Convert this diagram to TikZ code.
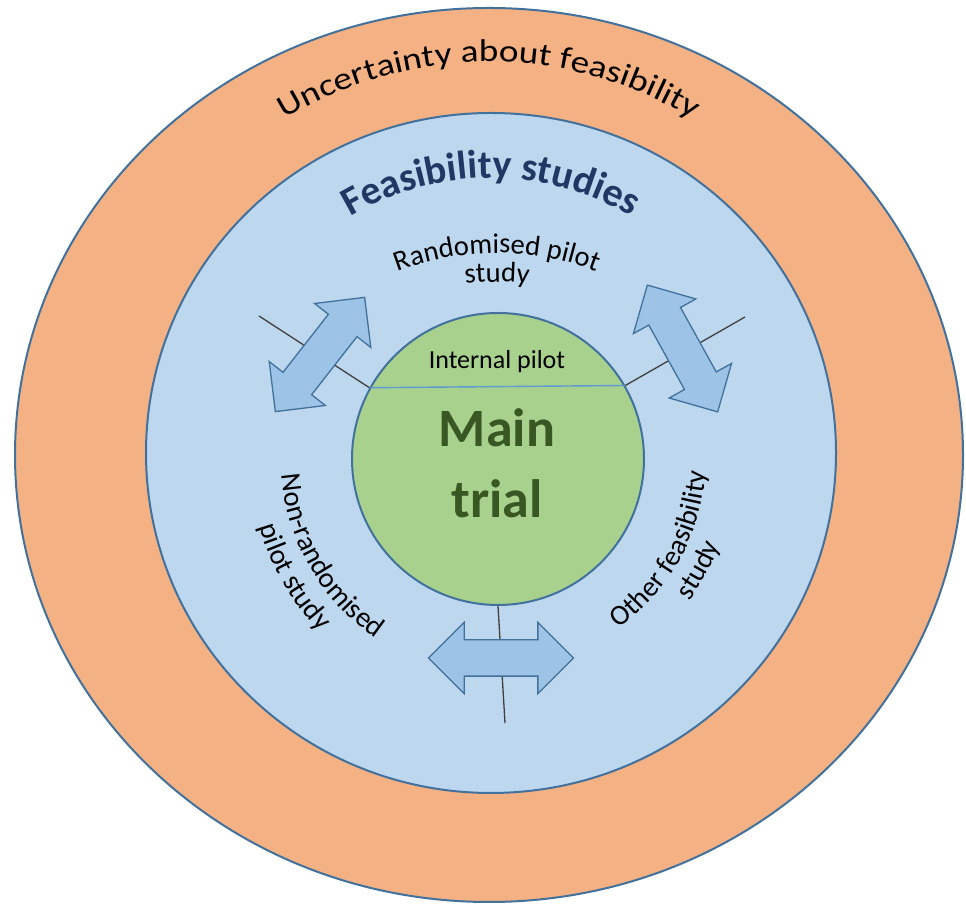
\documentclass[tikz,border=0pt]{standalone}
\usepackage{fontspec}
\setmainfont{Carlito}
\newfontfamily\arcfont[FakeStretch=1.18]{Carlito}
\usetikzlibrary{shapes.arrows,decorations.text}

\definecolor{ringorange}{RGB}{244,177,131}
\definecolor{ringblue}{RGB}{189,215,238}
\definecolor{maingreen}{RGB}{169,209,142}
\definecolor{rimblue}{RGB}{65,113,156}
\definecolor{splitblue}{RGB}{91,155,213}
\definecolor{arrowblue}{RGB}{157,195,230}
\definecolor{titleblue}{RGB}{31,56,100}
\definecolor{trialgreen}{RGB}{56,87,35}

\newcommand\lblsize{\fontsize{28.5}{34}\selectfont}
\newcommand\bandsize{\arcfont\fontsize{31.5}{37}\selectfont}
\newcommand\featsize{\color{titleblue}\bfseries\fontsize{40}{48}\selectfont}

\tikzset{
  ring/.style={draw=rimblue, line width=2pt},
  spoke/.style={draw=black!75, line width=1.3pt},
  dblarrow/.style={double arrow, draw=rimblue, fill=arrowblue, line width=1.3pt,
    minimum height=145pt, minimum width=70pt, inner xsep=0pt, inner ysep=17.5pt,
    double arrow head extend=17.5pt},
  arctext/.style={decorate, decoration={text along path, text align=center, text={#1}}}
}

\begin{document}
\begin{tikzpicture}[x=1pt,y=1pt]
  \useasboundingbox (0,0) rectangle (966,909);

  % rings
  \draw[ring, fill=ringorange] (489,454) ellipse [x radius=474, y radius=447];
  \draw[ring, fill=ringblue] (491,456) ellipse [x radius=345, y radius=340];
  \node[ring, circle, fill=maingreen, minimum size=292pt, inner sep=0pt] (main) at (498,450) {};
  \draw[splitblue, line width=1.4pt] (main.151) -- (main.30);

  % spokes, under the arrows
  \coordinate (endL) at (259,593);
  \coordinate (endR) at (745,592);
  \coordinate (endB) at (505,186);
  \draw[spoke] (main.151) -- (endL);
  \draw[spoke] (main.30) -- (endR);
  \draw[spoke] (main.south) -- (endB);

  \begin{scope}[every node/.style={dblarrow}]
    \node[rotate=52]  (arrL) at (320,554.5) {};
    \node[rotate=119] (arrR) at (682.5,560.5) {};
    \node             (arrB) at (501,251) {};
  \end{scope}

  \node[font=\fontsize{26}{30}\selectfont] (pilot) at (497,547) {Internal pilot};
  \node[font=\bfseries\fontsize{54}{71}\selectfont, text=trialgreen, align=center] (trial) at (497,446) {Main\\trial};

  % curved labels
  \path[arctext={|\bandsize|Uncertainty about feasibility}]
    ([shift={(150:393)}]489,454) arc[start angle=150, end angle=30, radius=393];
  \path[arctext={|\featsize|Feasibility studies}]
    ([shift={(150:275)}]491,456) arc[start angle=150, end angle=30, radius=275];
  \path[arctext={|\lblsize|Randomised pilot}]
    ([shift={(135:275)}]497,381) arc[start angle=135, end angle=45, radius=275];
  \path[arctext={|\lblsize|study}]
    ([shift={(135:246)}]497,381) arc[start angle=135, end angle=45, radius=246];
  \path[arctext={|\lblsize|Non-randomised}]
    ([shift={(170:217)}]498,450) arc[start angle=170, end angle=250, radius=217];
  \path[arctext={|\lblsize|pilot study}]
    ([shift={(170:248)}]498,450) arc[start angle=170, end angle=250, radius=248];
  \path[arctext={|\lblsize|Other feasibility}]
    ([shift={(-69:208)}]498,450) arc[start angle=-69, end angle=11, radius=208];
  \path[arctext={|\lblsize|study}]
    ([shift={(-69:238)}]498,450) arc[start angle=-69, end angle=11, radius=238];
\end{tikzpicture}
\end{document}
